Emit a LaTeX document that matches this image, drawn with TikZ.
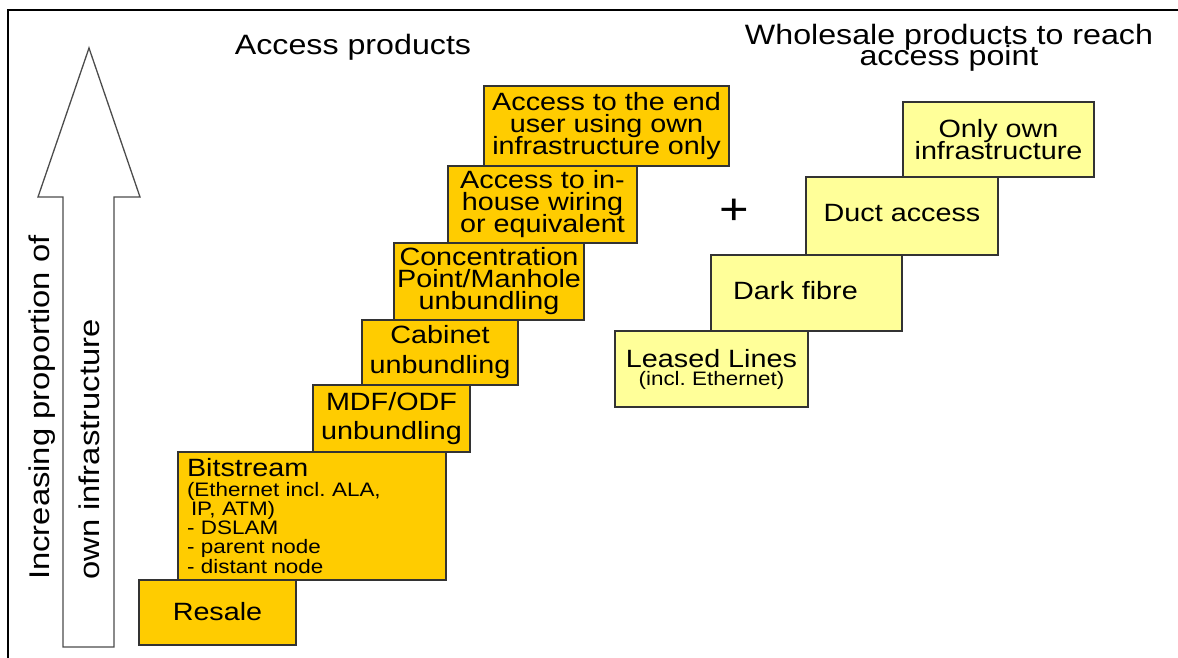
\documentclass[tikz,border=0pt]{standalone}
\usepackage{fontspec}
\setmainfont{Liberation Sans}[FakeStretch=1.15]
\frenchspacing
\newcommand\fsz[2]{\fontsize{#1}{#2}\selectfont\lineskiplimit=-100pt\lineskip=0pt\relax}
\definecolor{accyel}{HTML}{FFCC00}
\definecolor{wsyel}{HTML}{FFFF99}
\definecolor{edgegray}{HTML}{333333}
\begin{document}
\begin{tikzpicture}[x=1pt,y=-1pt,
  prodbox/.style={draw=edgegray, line width=1.2pt, fill=accyel, inner sep=0pt, align=center, font=\fsz{25}{22}},
  wsbox/.style={draw=edgegray, line width=1.2pt, fill=wsyel, inner sep=0pt, align=center, font=\fsz{25}{22}},
  titletext/.style={inner sep=0pt, align=center, font=\fsz{28}{21.5}},
  sidetext/.style={inner sep=0pt, rotate=90, anchor=base west, font=\fsz{28.5}{30}}
]
\useasboundingbox (0,0) rectangle (1178,658);
% frame
\coordinate (ftl) at (8,10);
\coordinate (ftr) at (1178,10);
\coordinate (fbl) at (8,658);
\draw[line width=2pt] (ftr) -- (ftl) -- (fbl);

% big arrow
\draw[draw=black!70, line width=1.3pt, fill=white]
  (89,48) -- (140,197) -- (114,197) -- (114,647) -- (63,647) -- (63,197) -- (38,197) -- cycle;
\node[sidetext] (side1) at (49,580) {Increasing proportion of};
\node[sidetext] (side2) at (99,580) {own infrastructure};

% titles
\node[titletext, anchor=base] (t1) at (353,55) {Access products};
\node[titletext] (t2) at (949,48) {Wholesale products to reach\\access point};

% access products
\node[prodbox, minimum width=157pt, minimum height=65pt, text depth=3pt] (resale) at (217.5,612.5) {Resale};
\node[prodbox, text width=250pt, inner xsep=9pt, align=left, minimum height=128pt, font=\fsz{19.5}{19.3}] (bit) at (312,516)
  {{\fsz{25}{20}Bitstream}\\(Ethernet incl. ALA,\\\hspace*{4pt}IP, ATM)\\- DSLAM\\- parent node\\- distant node};
\node[prodbox, minimum width=157pt, minimum height=67pt, font=\fsz{25}{29.5}] (mdf) at (391.5,418.5) {MDF/ODF\\unbundling};
\node[prodbox, minimum width=156pt, minimum height=65pt, font=\fsz{25}{30}] (cab) at (440,352.5) {Cabinet\\unbundling};
\node[prodbox, minimum width=190pt, minimum height=77pt] (conc) at (489,281.5) {Concentration\\Point/Manhole\\unbundling};
\node[prodbox, minimum width=189pt, minimum height=77pt] (inh) at (542.5,204.5) {Access to in-\\house wiring\\or equivalent};
\node[prodbox, minimum width=245pt, minimum height=80pt] (endu) at (606.5,126) {Access to the end\\user using own\\infrastructure only};

% plus
\node[inner sep=0pt, font=\fsz{44}{44}] (plus) at (734,212) {+};

% wholesale products
\node[wsbox, minimum width=193pt, minimum height=76pt, font=\fsz{25}{18}] (leased) at (711.5,369) {Leased Lines\\{\fsz{19.5}{18}(incl. Ethernet)}};
\node[wsbox, minimum width=191pt, minimum height=76pt, text depth=6pt] (dark) at (806.5,293) {Dark fibre\hspace*{22pt}};
\node[wsbox, minimum width=192pt, minimum height=78pt, text depth=6pt] (duct) at (902,216) {Duct access};
\node[wsbox, minimum width=191pt, minimum height=75pt] (only) at (998.5,139.5) {Only own\\infrastructure};
\end{tikzpicture}
\end{document}
